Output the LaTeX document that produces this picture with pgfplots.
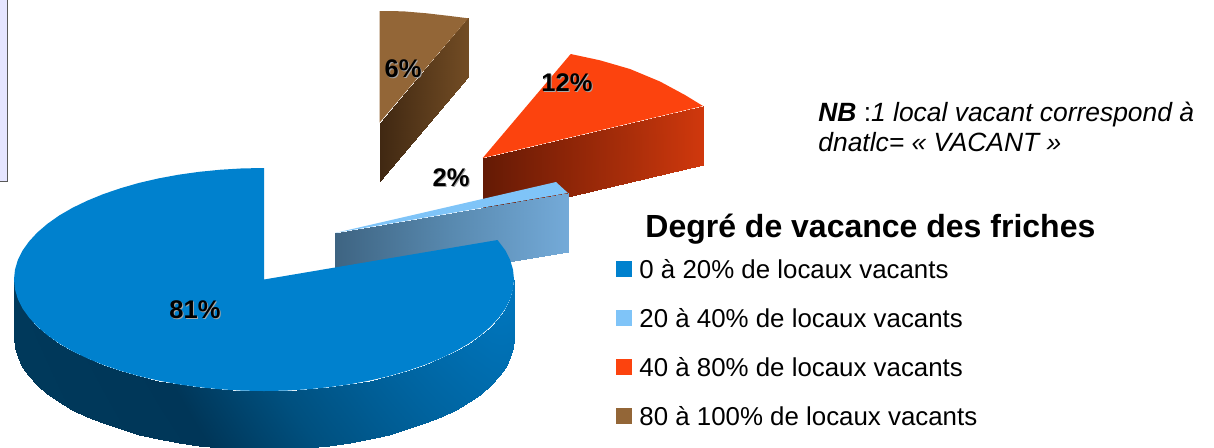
\documentclass[border=0pt]{standalone}
\usepackage{fontspec}
\setmainfont{Liberation Sans}
\usepackage{pgfplots}
\pgfplotsset{compat=1.18}
\definecolor{cBlue}{RGB}{0,129,206}
\definecolor{cSky}{RGB}{127,196,248}
\definecolor{cRed}{RGB}{252,67,14}
\definecolor{cBrown}{RGB}{147,102,55}
\pgfplotsset{
  colormap={blueside}{rgb255(0)=(0,57,91); rgb255(170)=(0,54,88); rgb255(280)=(0,80,127); rgb255(400)=(0,100,160); rgb255(510)=(0,117,188); rgb255(1214)=(0,117,188)},
  colormap={skyside}{rgb255(0)=(62,100,130); rgb255(335)=(62,100,130); rgb255(450)=(88,137,175); rgb255(568)=(116,170,216); rgb255(1214)=(116,170,216)},
  colormap={redside}{rgb255(0)=(100,26,5); rgb255(482)=(100,26,5); rgb255(560)=(138,36,7); rgb255(630)=(170,46,10); rgb255(703)=(208,56,13); rgb255(1214)=(208,56,13)},
  colormap={brownside}{rgb255(0)=(64,40,18); rgb255(379)=(64,40,18); rgb255(468)=(114,76,36); rgb255(1214)=(114,76,36)},
}
% picture is 607pt wide, so 1 reference pixel = 0.5pt
\newcommand{\pct}[2]{%
  \node[font=\fontsize{12.75}{15}\selectfont\bfseries, text=black!35] at (axis cs:#1) [xshift=0.5pt,yshift=-0.5pt] {#2};
  \node[font=\fontsize{12.75}{15}\selectfont\bfseries] at (axis cs:#1) {#2};}
\newcommand{\legtext}[2]{\node[anchor=base west, inner sep=0pt, font=\fontsize{12.93}{15}\selectfont] at (axis cs:639,#1) {#2};}
\begin{document}
\begin{tikzpicture}
\begin{axis}[
    scale only axis, width=607pt, height=223.5pt,
    xmin=0, xmax=1214, ymin=0, ymax=447, y dir=reverse,
    hide axis, point meta min=0, point meta max=1214,
]
% hide axis leaves no bounding box of its own
\path (axis cs:0,0) rectangle (axis cs:1214,447);

% box cut off at the left edge
\addplot[fill=blue!10, draw=black!65, line width=0.5pt] coordinates {(-5,-5) (8,-5) (8,181) (-5,181)} --cycle;

% 6% slice
\addplot[patch, patch type=rectangle, shader=interp, colormap name=brownside, point meta=explicit] table[meta=c] {
x y c
379.5 122.7 379
468.3 18.3 468
468.3 76.8 468
379.5 181 379
};
\addplot[fill=cBrown, draw=none] coordinates {(379.5,11) (403,11.3) (426.7,13.3) (450,16) (468.3,18.3) (379.5,122.7)} --cycle;

% 12% slice
\addplot[patch, patch type=rectangle, shader=interp, colormap name=redside, point meta=explicit] table[meta=c] {
x y c
482.7 158 482
703 106 703
703 165 703
482.7 216.5 482
};
\addplot[fill=cRed, draw=none] coordinates {(482.7,158) (570.7,54) (600,60.3) (630,69) (660,81.5) (685,95) (703,106)} --cycle;

% 2% slice
\addplot[patch, patch type=rectangle, shader=interp, colormap name=skyside, point meta=explicit] table[meta=c] {
x y c
335 233 335
568 193 568
568 252 568
335 291 335
};
\addplot[fill=cSky, draw=none] coordinates {(335,233) (556,182) (568,193)} --cycle;

% 81% slice, outer wall then top
\addplot[patch, patch type=rectangle, shader=interp, colormap name=blueside, point meta=explicit] table[meta=c] {
x y c
514 279.5 514
513.05 289.2 513
513.05 347.7 473
514 338 474
513.05 289.2 513
510.2 298.9 510
510.2 357.4 470
513.05 347.7 473
510.2 298.9 510
505.5 308.4 505
505.5 366.9 465
510.2 357.4 470
505.5 308.4 505
498.9 317.6 499
498.9 376.1 459
505.5 366.9 465
498.9 317.6 499
490.6 326.6 491
490.6 385.1 451
498.9 376.1 459
490.6 326.6 491
480.5 335.25 480
480.5 393.75 440
490.6 385.1 451
480.5 335.25 480
468.8 343.5 469
468.8 402 429
480.5 393.75 440
468.8 343.5 469
455.5 351.2 455
455.5 409.7 415
468.8 402 429
455.5 351.2 455
440.8 358.3 441
440.8 416.8 401
455.5 409.7 415
440.8 358.3 441
424.7 364.9 425
424.7 423.4 385
440.8 416.8 401
424.7 364.9 425
407.4 370.8 407
407.4 429.3 367
424.7 423.4 385
407.4 370.8 407
389 376.1 389
389 434.6 349
407.4 429.3 367
389 376.1 389
369.7 380.55 370
369.7 439.05 330
389 434.6 349
369.7 380.55 370
349.5 384.3 349
349.5 442.8 309
369.7 439.05 330
349.5 384.3 349
328.7 387.2 329
328.7 445.7 289
349.5 442.8 309
328.7 387.2 329
307.4 389.3 307
307.4 447.8 267
328.7 445.7 289
307.4 389.3 307
285.8 390.6 286
285.8 449.1 246
307.4 447.8 267
285.8 390.6 286
264 391 264
264 449.5 224
285.8 449.1 246
264 391 264
242.2 390.6 242
242.2 449.1 202
264 449.5 224
242.2 390.6 242
220.6 389.3 221
220.6 447.8 181
242.2 449.1 202
220.6 389.3 221
199.3 387.2 199
199.3 445.7 159
220.6 447.8 181
199.3 387.2 199
178.5 384.3 178
178.5 442.8 138
199.3 445.7 159
178.5 384.3 178
158.3 380.55 158
158.3 439.05 118
178.5 442.8 138
158.3 380.55 158
139 376.1 139
139 434.6 99
158.3 439.05 118
139 376.1 139
120.6 370.8 121
120.6 429.3 81
139 434.6 99
120.6 370.8 121
103.3 364.9 103
103.3 423.4 63
120.6 429.3 81
103.3 364.9 103
87.2 358.3 87
87.2 416.8 47
103.3 423.4 63
87.2 358.3 87
72.5 351.2 72
72.5 409.7 32
87.2 416.8 47
72.5 351.2 72
59.2 343.5 59
59.2 402 19
72.5 409.7 32
59.2 343.5 59
47.5 335.25 47
47.5 393.75 7
59.2 402 19
47.5 335.25 47
37.4 326.6 37
37.4 385.1 0
47.5 393.75 7
37.4 326.6 37
29.1 317.6 29
29.1 376.1 0
37.4 385.1 0
29.1 317.6 29
22.5 308.4 22
22.5 366.9 0
29.1 376.1 0
22.5 308.4 22
17.8 298.9 18
17.8 357.4 0
22.5 366.9 0
17.8 298.9 18
14.95 289.2 15
14.95 347.7 0
17.8 357.4 0
14.95 289.2 15
14 279.5 14
14 338 0
14.95 347.7 0
};
\addplot[fill=cBlue, draw=none] coordinates {
  (264,279.5) (264,168) (242.2,168.4) (220.6,169.7) (199.3,171.8) (178.5,174.7) (158.3,178.45)
  (139,182.9) (120.6,188.2) (103.3,194.1) (87.2,200.7) (72.5,207.8) (59.2,215.5) (47.5,223.75)
  (37.4,232.4) (29.1,241.4) (22.5,250.6) (17.8,260.1) (14.95,269.8) (14,279.5) (14.95,289.2)
  (17.8,298.9) (22.5,308.4) (29.1,317.6) (37.4,326.6) (47.5,335.25) (59.2,343.5) (72.5,351.2)
  (87.2,358.3) (103.3,364.9) (120.6,370.8) (139,376.1) (158.3,380.55) (178.5,384.3) (199.3,387.2)
  (220.6,389.3) (242.2,390.6) (264,391) (285.8,390.6) (307.4,389.3) (328.7,387.2) (349.5,384.3)
  (369.7,380.55) (389,376.1) (407.4,370.8) (424.7,364.9) (440.8,358.3) (455.5,351.2) (468.8,343.5)
  (480.5,335.25) (490.6,326.6) (498.9,317.6) (505.5,308.4) (510.2,298.9) (513.05,289.2) (514,279.5)
  (513.05,269.8) (510.2,260.1) (505.5,250.6) (497.5,240)
} --cycle;

\pct{195,310}{81\%}
\pct{451,178}{2\%}
\pct{567,83}{12\%}
\pct{403,69}{6\%}

% note and legend
\node[anchor=base west, inner sep=0pt, font=\fontsize{13.2}{15}\selectfont] at (axis cs:818,121) {\textbf{\textit{NB}} :\textit{1 local vacant correspond à}};
\node[anchor=base west, inner sep=0pt, font=\fontsize{13.2}{15}\selectfont\itshape] at (axis cs:818,151) {dnatlc= « VACANT »};
\node[anchor=base west, inner sep=0pt, font=\fontsize{16}{18}\selectfont\bfseries] at (axis cs:645,237) {Degré de vacance des friches};

\addplot[fill=cBlue, draw=none] coordinates {(616,261) (632,261) (632,277) (616,277)} --cycle;
\addplot[fill=cSky, draw=none] coordinates {(616,310) (632,310) (632,326) (616,326)} --cycle;
\addplot[fill=cRed, draw=none] coordinates {(616,359) (632,359) (632,375) (616,375)} --cycle;
\addplot[fill=cBrown, draw=none] coordinates {(616,408) (632,408) (632,424) (616,424)} --cycle;
\legtext{278}{0 à 20\% de locaux vacants}
\legtext{327}{20 à 40\% de locaux vacants}
\legtext{376}{40 à 80\% de locaux vacants}
\legtext{425}{80 à 100\% de locaux vacants}
\end{axis}
\end{tikzpicture}
\end{document}
